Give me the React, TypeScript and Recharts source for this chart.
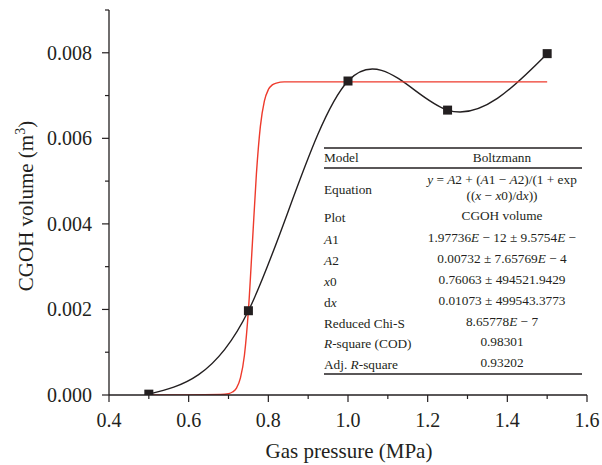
import React from 'react';
import { ComposedChart, Line, XAxis, YAxis, Scatter } from 'recharts';

// Measured CGOH volume vs gas pressure
const pressure = [0.5, 0.75, 1.0, 1.25, 1.5];
const volume = [0.00002, 0.00197, 0.00734, 0.00666, 0.00798];

// Boltzmann fit curve
const fitPressure = [0.5, 0.6, 0.68, 0.7, 0.71, 0.72, 0.73, 0.74, 0.75, 0.76, 0.77, 0.78, 0.79, 0.8, 0.81, 0.82, 0.84, 0.9, 1.0, 1.5];
const fitVolume = [0, 0, 0.00001, 0.00003, 0.00007, 0.00016, 0.0004, 0.00093, 0.00198, 0.00355, 0.00516, 0.00628, 0.00687, 0.00714, 0.00725, 0.00729, 0.00732, 0.00732, 0.00732, 0.00732];

const xTicks = [0.4, 0.5, 0.6, 0.7, 0.8, 0.9, 1.0, 1.1, 1.2, 1.3, 1.4, 1.5, 1.6];
const yTicks = [0, 0.001, 0.002, 0.003, 0.004, 0.005, 0.006, 0.007, 0.008, 0.009];

type Seg = [string, boolean];
const tableHeader: [string, string] = ['Model', 'Boltzmann'];
const equationLines: Seg[][] = [
  [['y', true], [' = ', false], ['A', true], ['2 + (', false], ['A', true], ['1 − ', false], ['A', true], ['2)/(1 + exp', false]],
  [['((', false], ['x', true], [' − ', false], ['x', true], ['0)/d', false], ['x', true], ['))', false]],
];
const tableRows: { label: Seg[]; value: Seg[] }[] = [
  { label: [['Plot', false]], value: [['CGOH volume', false]] },
  { label: [['A', true], ['1', false]], value: [['1.97736', false], ['E', true], [' − 12 ± 9.5754', false], ['E', true], [' −', false]] },
  { label: [['A', true], ['2', false]], value: [['0.00732 ± 7.65769', false], ['E', true], [' − 4', false]] },
  { label: [['x', true], ['0', false]], value: [['0.76063 ± 494521.9429', false]] },
  { label: [['d', false], ['x', true]], value: [['0.01073 ± 499543.3773', false]] },
  { label: [['Reduced Chi-S', false]], value: [['8.65778', false], ['E', true], [' − 7', false]] },
  { label: [['R', true], ['-square (COD)', false]], value: [['0.98301', false]] },
  { label: [['Adj. ', false], ['R', true], ['-square', false]], value: [['0.93202', false]] },
];

const measured = pressure.map((x, i) => ({ x, y: volume[i] }));
const fitted = fitPressure.map((x, i) => ({ x, y: fitVolume[i] }));

const INK = '#231f20';
const RED = '#ee3a2c';
const FONT = '"Liberation Serif", "Times New Roman", serif';

const XTick = (props: any) => {
  const { x, y, payload } = props;
  const v = payload.value as number;
  const major = Math.round(v * 10) % 2 === 0;
  return (
    <g>
      <line x1={x} y1={y} x2={x} y2={y + (major ? 7 : 4)} stroke={INK} strokeWidth={1.2} />
      {major && (
        <text x={x} y={y + 32} textAnchor="middle" fontSize={20} fill={INK} fontFamily={FONT}>
          {v.toFixed(1)}
        </text>
      )}
    </g>
  );
};

const YTick = (props: any) => {
  const { x, y, payload } = props;
  const v = payload.value as number;
  const k = Math.round(v * 1000);
  const major = k % 2 === 0;
  return (
    <g>
      <line x1={x - (major ? 7 : 4)} y1={y} x2={x} y2={y} stroke={INK} strokeWidth={1.2} />
      {major && (
        <text x={x - 17} y={y} dy="0.35em" textAnchor="end" fontSize={20} fill={INK} fontFamily={FONT}>
          {v.toFixed(3)}
        </text>
      )}
    </g>
  );
};

const Square = (props: any) => {
  const { cx, cy } = props;
  if (cx == null || cy == null) return null;
  return <rect x={cx - 4.5} y={cy - 4.5} width={9} height={9} fill={INK} />;
};

const renderSegs = (segs: Seg[]) =>
  segs.map((s, i) => (
    <tspan key={i} fontStyle={s[1] ? 'italic' : 'normal'}>
      {s[0]}
    </tspan>
  ));

const Table = () => {
  const left = 324;
  const right = 582;
  const valX = 502;
  const rowY = [217, 239, 260, 281, 302, 323, 343, 364];
  return (
    <svg width={602} height={465} style={{ position: 'absolute', left: 0, top: 0, pointerEvents: 'none' }}>
      <g fontFamily={FONT} fontSize={13.3} fill={INK}>
        <line x1={left} x2={right} y1={148} y2={148} stroke={INK} strokeWidth={1.3} />
        <text x={left} y={157} dy="0.35em">{tableHeader[0]}</text>
        <text x={valX} y={157} dy="0.35em" textAnchor="middle">{tableHeader[1]}</text>
        <line x1={left} x2={right} y1={168} y2={168} stroke={INK} strokeWidth={1.3} />
        <text x={left} y={189} dy="0.35em">Equation</text>
        <text x={valX} y={179} dy="0.35em" textAnchor="middle">{renderSegs(equationLines[0])}</text>
        <text x={valX} y={195} dy="0.35em" textAnchor="middle">{renderSegs(equationLines[1])}</text>
        {tableRows.map((r, i) => (
          <g key={i}>
            <text x={left} y={rowY[i]} dy="0.35em">{renderSegs(r.label)}</text>
            <text x={valX} y={rowY[i] - 1.5} dy="0.35em" textAnchor="middle">{renderSegs(r.value)}</text>
          </g>
        ))}
        <line x1={left} x2={right} y1={374} y2={374} stroke={INK} strokeWidth={1.3} />
      </g>
      <g fontFamily={FONT} fill={INK}>
        <text x={349} y={458} textAnchor="middle" fontSize={21}>Gas pressure (MPa)</text>
        <text x={33} y={206} textAnchor="middle" fontSize={21} transform="rotate(-90 33 206)">
          CGOH volume (m<tspan fontSize={14} dy={-8}>3</tspan><tspan dy={8}>)</tspan>
        </text>
      </g>
    </svg>
  );
};

export default function App() {
  return (
    <div style={{ position: 'absolute', left: 0, top: 0, width: 602, height: 465, background: '#fff' }}>
      <ComposedChart width={602} height={465} margin={{ top: 10, right: 15, left: 0, bottom: 0 }}>
        <XAxis
          dataKey="x"
          type="number"
          domain={[0.4, 1.6]}
          ticks={xTicks}
          interval={0}
          tickSize={0}
          tickMargin={0}
          tickLine={false}
          tick={<XTick />}
          axisLine={{ stroke: INK, strokeWidth: 1.3 }}
          height={70}
          allowDataOverflow
        />
        <YAxis
          dataKey="y"
          type="number"
          domain={[0, 0.009]}
          ticks={yTicks}
          interval={0}
          tickSize={0}
          tickMargin={0}
          tickLine={false}
          tick={<YTick />}
          axisLine={{ stroke: INK, strokeWidth: 1.3 }}
          width={109}
          allowDataOverflow
        />
        <Line
          data={measured}
          dataKey="y"
          type="natural"
          stroke={INK}
          strokeWidth={1.4}
          dot={false}
          activeDot={false}
          isAnimationActive={false}
        />
        <Line
          data={fitted}
          dataKey="y"
          type="monotone"
          stroke={RED}
          strokeWidth={1.4}
          dot={false}
          activeDot={false}
          isAnimationActive={false}
        />
        <Scatter data={measured} dataKey="y" shape={<Square />} isAnimationActive={false} />
      </ComposedChart>
      <Table />
    </div>
  );
}
